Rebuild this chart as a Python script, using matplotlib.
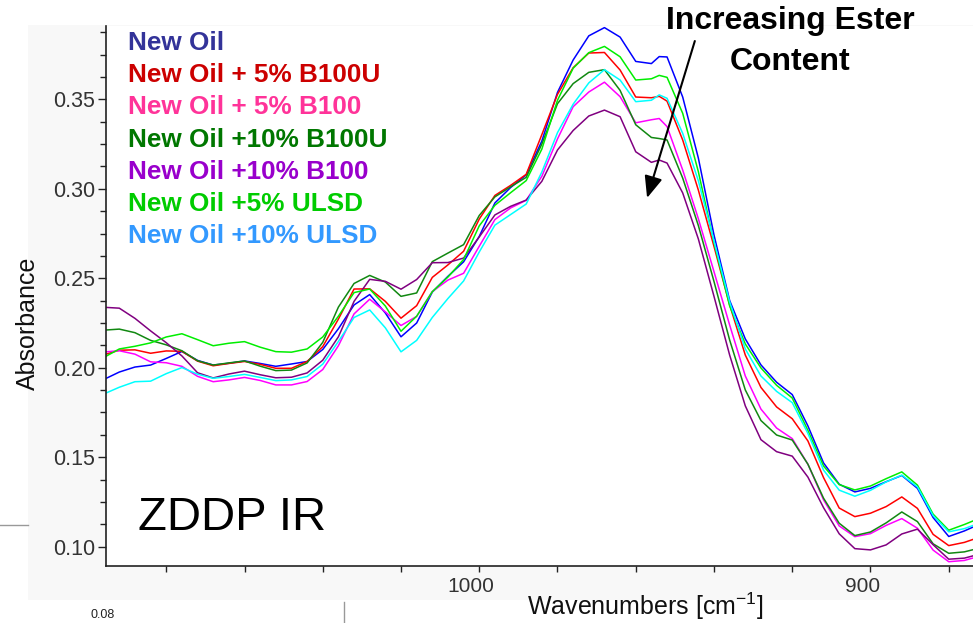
import matplotlib
matplotlib.use('Agg')
import matplotlib.pyplot as plt
from matplotlib.ticker import MultipleLocator, FormatStrFormatter
from matplotlib.patches import Rectangle
from matplotlib.lines import Line2D
import matplotlib.transforms as mtransforms

plt.rcParams['font.family'] = ['Liberation Sans', 'DejaVu Sans']
plt.rcParams['mathtext.default'] = 'regular'

# wavenumber grid (cm-1)
wavenumbers = [1096, 1092, 1088, 1084, 1080, 1076, 1072, 1068, 1064, 1060,
               1056, 1052, 1048, 1044, 1040, 1036, 1032, 1028, 1024, 1020,
               1016, 1012, 1008, 1004, 1000, 996, 992, 988, 984, 980,
               976, 972, 968, 964, 960, 956, 954,
               952, 948, 944, 940, 936, 932, 928, 924, 920, 916,
               912, 908, 904, 900, 896, 892, 888, 884, 880, 876,
               872]

new_oil = [0.1934, 0.1976, 0.2004, 0.2015, 0.2052, 0.2091, 0.2041, 0.2015, 0.2025, 0.2038,
           0.2024, 0.2008, 0.2021, 0.2035, 0.2102, 0.2218, 0.2351, 0.2409, 0.2306, 0.2173,
           0.2250, 0.2423, 0.2511, 0.2592, 0.2734, 0.2921, 0.3007, 0.3078, 0.3267, 0.3539,
           0.3720, 0.3855, 0.3901, 0.3848, 0.3712, 0.3700, 0.3739,
           0.3737, 0.3513, 0.3172, 0.2742, 0.2376, 0.2161, 0.2016, 0.1919, 0.1850, 0.1675,
           0.1468, 0.1349, 0.1306, 0.1326, 0.1363, 0.1398, 0.1326, 0.1163, 0.1057, 0.1088,
           0.1127]

b100u_5 = [0.2072, 0.2098, 0.2100, 0.2081, 0.2094, 0.2092, 0.2037, 0.2011, 0.2024, 0.2035,
           0.2019, 0.1997, 0.1997, 0.2035, 0.2118, 0.2272, 0.2440, 0.2441, 0.2371, 0.2277,
           0.2347, 0.2505, 0.2575, 0.2651, 0.2831, 0.2963, 0.3019, 0.3081, 0.3303, 0.3528,
           0.3677, 0.3759, 0.3762, 0.3664, 0.3513, 0.3509, 0.3517,
           0.3490, 0.3273, 0.2993, 0.2678, 0.2351, 0.2071, 0.1890, 0.1781, 0.1715, 0.1591,
           0.1386, 0.1216, 0.1168, 0.1187, 0.1224, 0.1278, 0.1214, 0.1069, 0.1006, 0.1024,
           0.1054]

b100_5 = [0.2088, 0.2095, 0.2076, 0.2033, 0.2028, 0.2008, 0.1952, 0.1922, 0.1932, 0.1946,
          0.1929, 0.1904, 0.1904, 0.1923, 0.1990, 0.2123, 0.2301, 0.2383, 0.2312, 0.2236,
          0.2287, 0.2426, 0.2490, 0.2528, 0.2679, 0.2828, 0.2893, 0.2936, 0.3070, 0.3279,
          0.3459, 0.3541, 0.3596, 0.3515, 0.3369, 0.3386, 0.3393,
          0.3348, 0.3105, 0.2833, 0.2537, 0.2239, 0.1954, 0.1769, 0.1663, 0.1604, 0.1461,
          0.1262, 0.1116, 0.1056, 0.1073, 0.1119, 0.1157, 0.1103, 0.0981, 0.0916, 0.0923,
          0.0948]

b100u_10 = [0.2210, 0.2216, 0.2196, 0.2153, 0.2128, 0.2095, 0.2039, 0.2015, 0.2027, 0.2038,
            0.2009, 0.1984, 0.1987, 0.2027, 0.2142, 0.2339, 0.2471, 0.2516, 0.2479, 0.2399,
            0.2418, 0.2593, 0.2641, 0.2688, 0.2851, 0.2955, 0.3011, 0.3064, 0.3250, 0.3476,
            0.3588, 0.3651, 0.3666, 0.3550, 0.3358, 0.3287, 0.3281,
            0.3273, 0.3060, 0.2795, 0.2482, 0.2155, 0.1876, 0.1705, 0.1624, 0.1596, 0.1461,
            0.1271, 0.1131, 0.1062, 0.1082, 0.1133, 0.1194, 0.1140, 0.1016, 0.0963, 0.0971,
            0.0993]

b100_10 = [0.2338, 0.2333, 0.2276, 0.2206, 0.2140, 0.2066, 0.1972, 0.1943, 0.1965, 0.1981,
           0.1961, 0.1944, 0.1947, 0.1971, 0.2042, 0.2173, 0.2371, 0.2494, 0.2483, 0.2439,
           0.2493, 0.2587, 0.2588, 0.2613, 0.2731, 0.2854, 0.2902, 0.2937, 0.3042, 0.3217,
           0.3326, 0.3407, 0.3440, 0.3403, 0.3207, 0.3148, 0.3161,
           0.3144, 0.2977, 0.2720, 0.2399, 0.2071, 0.1787, 0.1598, 0.1531, 0.1506, 0.1389,
           0.1218, 0.1072, 0.0989, 0.0982, 0.1010, 0.1071, 0.1098, 0.1011, 0.0930, 0.0936,
           0.0959]

ulsd_5 = [0.2057, 0.2105, 0.2120, 0.2139, 0.2172, 0.2190, 0.2157, 0.2123, 0.2137, 0.2146,
          0.2115, 0.2090, 0.2087, 0.2105, 0.2172, 0.2288, 0.2420, 0.2440, 0.2345, 0.2204,
          0.2288, 0.2425, 0.2507, 0.2605, 0.2793, 0.2908, 0.2978, 0.3046, 0.3222, 0.3495,
          0.3674, 0.3761, 0.3796, 0.3738, 0.3608, 0.3615, 0.3634,
          0.3623, 0.3422, 0.3096, 0.2699, 0.2346, 0.2133, 0.1999, 0.1902, 0.1831, 0.1650,
          0.1451, 0.1347, 0.1317, 0.1339, 0.1380, 0.1418, 0.1344, 0.1182, 0.1092, 0.1124,
          0.1160]

ulsd_10 = [0.1853, 0.1891, 0.1922, 0.1925, 0.1967, 0.2001, 0.1964, 0.1941, 0.1951, 0.1963,
           0.1946, 0.1928, 0.1932, 0.1951, 0.2020, 0.2147, 0.2281, 0.2323, 0.2223, 0.2089,
           0.2153, 0.2281, 0.2387, 0.2485, 0.2647, 0.2797, 0.2856, 0.2915, 0.3094, 0.3314,
           0.3473, 0.3592, 0.3666, 0.3608, 0.3487, 0.3495, 0.3525,
           0.3506, 0.3310, 0.3045, 0.2708, 0.2369, 0.2105, 0.1954, 0.1868, 0.1805, 0.1633,
           0.1428, 0.1316, 0.1282, 0.1315, 0.1362, 0.1400, 0.1334, 0.1174, 0.1083, 0.1101,
           0.1133]

labels = ['New Oil', 'New Oil + 5% B100U', 'New Oil + 5% B100', 'New Oil +10% B100U',
          'New Oil +10% B100', 'New Oil +5% ULSD', 'New Oil +10% ULSD']
series = [new_oil, b100u_5, b100_5, b100u_10, b100_10, ulsd_5, ulsd_10]
line_colors = ['#0000ff', '#ff0000', '#ff00ff', '#118811', '#800080', '#00ee00', '#00ffff']
text_colors = ['#333399', '#cc0000', '#ff3399', '#007700', '#9900cc', '#00cc00', '#3399ff']

W, H = 973, 623
fig = plt.figure(figsize=(W / 100, H / 100), dpi=100)

# faint panel behind the plot, as in the source slide
fig.patches.append(Rectangle((28 / W, 1 - 600 / H), 1, (600 - 25) / H, transform=fig.transFigure,
                             facecolor='#f8f8f8', edgecolor='none', zorder=-10))

ax = fig.add_axes([106 / W, 1 - 566 / H, (W - 106) / W, (566 - 26) / H])
ax.set_zorder(2)
ax.set_facecolor('white')

for vals, col in zip(series, line_colors):
    ax.plot(wavenumbers, vals, color=col, lw=1.1)

ax.set_xlim(1095.4, 873.8)
ax.set_ylim(0.0892, 0.391)

for s in ['top', 'right']:
    ax.spines[s].set_visible(False)
for s in ['left', 'bottom']:
    ax.spines[s].set_color('#222222')
    ax.spines[s].set_linewidth(1.2)

ax.xaxis.set_major_locator(MultipleLocator(100))
ax.xaxis.set_minor_locator(MultipleLocator(20))
ax.yaxis.set_major_locator(MultipleLocator(0.05))
ax.yaxis.set_minor_locator(MultipleLocator(0.0125))
ax.yaxis.set_major_formatter(FormatStrFormatter('%.2f'))

ax.tick_params(axis='x', which='both', direction='out', length=4, width=1,
               color='#222222', labelsize=15, labelcolor='#333333', pad=4)
ax.tick_params(axis='y', which='major', direction='out', length=6, width=1,
               color='#222222', labelsize=15.5, labelcolor='#333333', pad=2)
ax.tick_params(axis='y', which='minor', direction='out', length=4, width=1, color='#222222')

# x tick labels sit a little left of their ticks in the original
shift = mtransforms.ScaledTranslation(-8 / 100, 0, fig.dpi_scale_trans)
for lab in ax.get_xticklabels():
    lab.set_transform(lab.get_transform() + shift)

# legend as coloured text
for i, (lab, col) in enumerate(zip(labels, text_colors)):
    ax.text(128 / W, 1 - (43 + i * 32.2) / H, lab, color=col, fontsize=18.8,
            fontweight='bold', va='center', ha='left', transform=fig.transFigure)

ax.text(138 / W, 1 - 530 / H, 'ZDDP IR', fontsize=34, va='baseline', ha='left',
        transform=fig.transFigure)

ax.text(790 / W, 1 - 21 / H, 'Increasing Ester', fontsize=23, fontweight='bold',
        ha='center', va='center', transform=fig.transFigure)
ax.text(790 / W, 1 - 62 / H, 'Content', fontsize=23, fontweight='bold',
        ha='center', va='center', transform=fig.transFigure)

ax.annotate('', xy=(957.1, 0.2949), xytext=(944.9, 0.3826),
            arrowprops=dict(arrowstyle='-|>,head_length=0.6,head_width=0.25',
                            color='black', lw=1.5, mutation_scale=22,
                            shrinkA=0, shrinkB=0))

fig.text(28 / W, 1 - 323 / H, 'Absorbance', rotation=90, fontsize=18,
         ha='center', va='center', color='#111111')
fig.text(645 / W, 1 - 606 / H, r'Wavenumbers [cm$^{-1}$]', fontsize=18,
         ha='center', va='center', color='#111111')

# bits of neighbouring slide content cut by the crop
fig.add_artist(Line2D([0, 28 / W], [1 - 525 / H] * 2, color='#999999', lw=1))
fig.add_artist(Line2D([344 / W] * 2, [0, 21 / H], color='#999999', lw=1))
fig.text(103 / W, 1 - 621 / H, '0.08', fontsize=9, ha='center', va='bottom', color='#222222')

fig.savefig('out.png', dpi=100)
